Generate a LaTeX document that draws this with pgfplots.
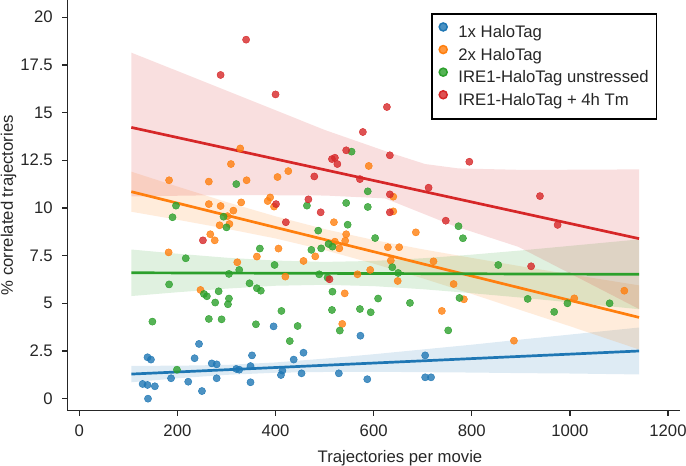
\documentclass[border=0pt]{standalone}
\usepackage{fontspec}
\setmainfont{Liberation Sans}
\usepackage{pgfplots}
\pgfplotsset{compat=1.18}
\usepgfplotslibrary{fillbetween}
\definecolor{tblue}{HTML}{1F77B4}
\definecolor{torange}{HTML}{FF7F0E}
\definecolor{tgreen}{HTML}{2CA02C}
\definecolor{tred}{HTML}{D62728}
\definecolor{spine}{HTML}{262626}
\begin{document}
\begin{tikzpicture}
\begin{axis}[
  at={(67.3bp,55.3bp)}, anchor=south west,
  scale only axis, width=612.7bp, height=410.7bp,
  xmin=-24.5, xmax=1224.5, ymin=-0.63, ymax=20.9,
  axis x line*=bottom, axis y line*=left,
  axis line style={-, line width=1.6bp, color=spine},
  tick align=outside, major tick length=5bp,
  tick style={line width=1.3bp, color=spine},
  xtick={0,200,400,600,800,1000,1200},
  xticklabels={0,200,400,600,800,1000,1200},
  ytick={0,2.5,5,7.5,10,12.5,15,17.5,20},
  yticklabels={0,2.5,5,7.5,10,12.5,15,17.5,20},
  /pgf/number format/assume math mode=true,
  font=\fontsize{16.7bp}{20bp}\selectfont,
  ticklabel style={text=spine},
  xticklabel style={yshift=-6bp},
  yticklabel style={xshift=-6bp},
  xlabel={Trajectories per movie},
  xlabel style={at={(axis description cs:0.543,0)}, anchor=base, yshift=-51.6bp, text=spine},
  ylabel={\% correlated trajectories},
  ylabel style={at={(axis description cs:-0.096,0.5)}, anchor=center, text=spine},
  legend cell align=left,
  legend style={at={(axis description cs:0.5936,0.9683)}, anchor=north west,
    draw=black, line width=1.5bp, fill=white, inner xsep=5bp, inner ysep=7.4bp,
    row sep=0bp, nodes={inner xsep=3bp, inner ysep=3.4bp, text height=13.2bp, text depth=2.6bp, text=spine},
    /tikz/every odd column/.append style={column sep=7.5bp},
    /tikz/every even column/.append style={column sep=0bp}},
]
% ---------- 1x HaloTag ----------
\addplot[only marks, mark=*, mark size=3.6bp, color=tblue, mark options={draw=none, fill=tblue, fill opacity=0.8}, forget plot] coordinates {
(139,2.17)(146,2.05)(129,0.77)(139,0.72)(154,0.65)(140,0.00)(187,1.07)(222,0.89)(235,2.12)(244,2.87)(250,0.40)(270,1.85)(280,1.80)(280,1.07)(320,1.56)(326,1.52)(349,1.71)(352,2.27)(349,0.86)(396,3.79)(411,1.24)(414,1.47)(437,2.05)(453,1.33)(457,2.41)(529,1.33)(573,3.30)(587,1.02)(705,2.27)(705,1.12)(717,1.12)};
\addplot[draw=none, name path=bu, forget plot] coordinates {(106,1.72)(200,1.73)(300,1.77)(400,1.90)(500,2.10)(600,2.33)(700,2.58)(800,2.83)(900,3.10)(1000,3.36)(1141,3.73)};
\addplot[draw=none, name path=bl, forget plot] coordinates {(106,0.86)(200,1.07)(300,1.25)(400,1.36)(500,1.40)(600,1.41)(700,1.39)(800,1.37)(900,1.34)(1000,1.32)(1141,1.27)};
\addplot[fill=tblue, fill opacity=0.15, draw=none, forget plot] fill between[of=bu and bl];
\addplot[tblue, line width=2.7bp, forget plot] coordinates {(106,1.29)(1141,2.50)};
% ---------- 2x HaloTag ----------
\addplot[only marks, mark=*, mark size=3.6bp, color=torange, mark options={draw=none, fill=torange, fill opacity=0.8}, forget plot] coordinates {
(328,13.12)(309,12.30)(590,12.20)(183,11.45)(264,11.38)(341,11.45)(404,11.62)(426,11.93)(640,10.59)(264,10.20)(288,10.10)(330,10.29)(384,10.36)(389,10.55)(397,10.07)(640,9.82)(314,9.86)(302,9.57)(286,9.09)(306,9.16)(267,8.62)(276,8.30)(182,7.67)(406,7.87)(362,7.45)(322,7.15)(247,5.70)(420,6.40)(457,7.22)(481,7.46)(519,9.25)(544,8.62)(542,8.28)(521,8.23)(530,7.88)(686,8.72)(629,7.94)(652,7.94)(635,7.24)(593,6.75)(567,6.52)(649,6.17)(722,7.20)(763,6.01)(541,5.52)(784,5.21)(1009,5.26)(1111,5.66)(739,4.60)(536,3.92)(886,3.04)};
\addplot[draw=none, name path=ou, forget plot] coordinates {(106,11.90)(200,11.12)(300,10.31)(400,9.56)(500,8.89)(600,8.32)(700,7.83)(800,7.38)(900,6.94)(1000,6.52)(1141,5.94)};
\addplot[draw=none, name path=ol, forget plot] coordinates {(106,9.80)(200,9.38)(300,8.91)(400,8.40)(500,7.79)(600,7.08)(700,6.31)(800,5.49)(900,4.64)(1000,3.80)(1141,2.58)};
\addplot[fill=torange, fill opacity=0.15, draw=none, forget plot] fill between[of=ou and ol];
\addplot[torange, line width=2.7bp, forget plot] coordinates {(106,10.85)(1141,4.26)};
% ---------- IRE1-HaloTag unstressed ----------
\addplot[only marks, mark=*, mark size=3.6bp, color=tgreen, mark options={draw=none, fill=tgreen, fill opacity=0.8}, forget plot] coordinates {
(555,12.95)(320,11.25)(588,10.87)(197,10.12)(464,10.12)(544,10.26)(588,10.05)(190,9.51)(294,9.54)(300,8.98)(217,7.36)(368,7.87)(326,6.75)(305,6.54)(183,5.99)(254,5.49)(260,5.37)(284,5.63)(305,5.25)(277,5.04)(303,4.95)(149,4.04)(264,4.18)(290,4.16)(347,6.05)(362,5.79)(370,5.66)(398,7.01)(360,3.90)(412,4.60)(445,3.81)(473,7.80)(487,8.81)(547,9.12)(508,8.11)(516,7.97)(493,7.88)(603,8.42)(773,9.04)(782,8.41)(638,6.89)(650,6.59)(489,6.52)(506,6.35)(854,7.01)(516,5.61)(609,5.25)(674,5.02)(775,5.28)(914,5.23)(995,5.00)(1081,5.00)(968,4.55)(572,4.70)(594,4.53)(515,4.65)(531,3.57)(752,3.58)(429,3.02)(199,1.52)};
\addplot[draw=none, name path=gu, forget plot] coordinates {(106,7.82)(200,7.60)(300,7.39)(400,7.24)(500,7.17)(600,7.22)(700,7.36)(800,7.55)(900,7.77)(1000,8.01)(1141,8.35)};
\addplot[draw=none, name path=gl, forget plot] coordinates {(106,5.38)(200,5.58)(300,5.77)(400,5.92)(500,5.97)(600,5.90)(700,5.74)(800,5.53)(900,5.30)(1000,5.05)(1141,4.69)};
\addplot[fill=tgreen, fill opacity=0.15, draw=none, forget plot] fill between[of=gu and gl];
\addplot[tgreen, line width=2.7bp, forget plot] coordinates {(106,6.60)(1141,6.52)};
% ---------- IRE1-HaloTag + 4h Tm ----------
\addplot[only marks, mark=*, mark size=3.6bp, color=tred, mark options={draw=none, fill=tred, fill opacity=0.8}, forget plot] coordinates {
(340,18.82)(288,16.97)(400,15.95)(627,15.29)(578,13.98)(544,13.02)(633,12.76)(515,12.56)(521,12.63)(526,12.30)(795,12.42)(479,11.65)(572,11.51)(712,11.06)(633,10.71)(939,10.62)(467,10.45)(401,10.20)(633,9.77)(492,9.77)(421,9.25)(747,9.33)(975,9.11)(252,8.30)(510,6.26)(921,6.94)};
\addplot[draw=none, name path=ru, forget plot] coordinates {(106,18.14)(229,16.88)(365,15.48)(501,14.08)(569,13.47)(637,12.86)(705,12.30)(773,12.07)(909,11.99)(1141,12.02)};
\addplot[draw=none, name path=rl, forget plot] coordinates {(106,10.60)(229,10.65)(365,10.67)(501,10.65)(623,10.50)(700,9.71)(759,9.10)(895,7.96)(1000,6.57)(1141,4.70)};
\addplot[fill=tred, fill opacity=0.15, draw=none, forget plot] fill between[of=ru and rl];
\addplot[tred, line width=2.7bp, forget plot] coordinates {(106,14.22)(1141,8.39)};
% ---------- legend ----------
\addlegendimage{legend image code/.code={\path (-1.7bp,5.5bp); \fill[tblue, fill opacity=0.8] (4bp,5.5bp) circle (4bp);}}
\addlegendentry{1x HaloTag}
\addlegendimage{legend image code/.code={\path (-1.7bp,5.5bp); \fill[torange, fill opacity=0.8] (4bp,5.5bp) circle (4bp);}}
\addlegendentry{2x HaloTag}
\addlegendimage{legend image code/.code={\path (-1.7bp,5.5bp); \fill[tgreen, fill opacity=0.8] (4bp,5.5bp) circle (4bp);}}
\addlegendentry{IRE1-HaloTag unstressed}
\addlegendimage{legend image code/.code={\path (-1.7bp,5.5bp); \fill[tred, fill opacity=0.8] (4bp,5.5bp) circle (4bp);}}
\addlegendentry{IRE1-HaloTag + 4h Tm}
\end{axis}
\pgfresetboundingbox
\useasboundingbox (0,0) rectangle (686bp,466bp);
\end{tikzpicture}
\end{document}
